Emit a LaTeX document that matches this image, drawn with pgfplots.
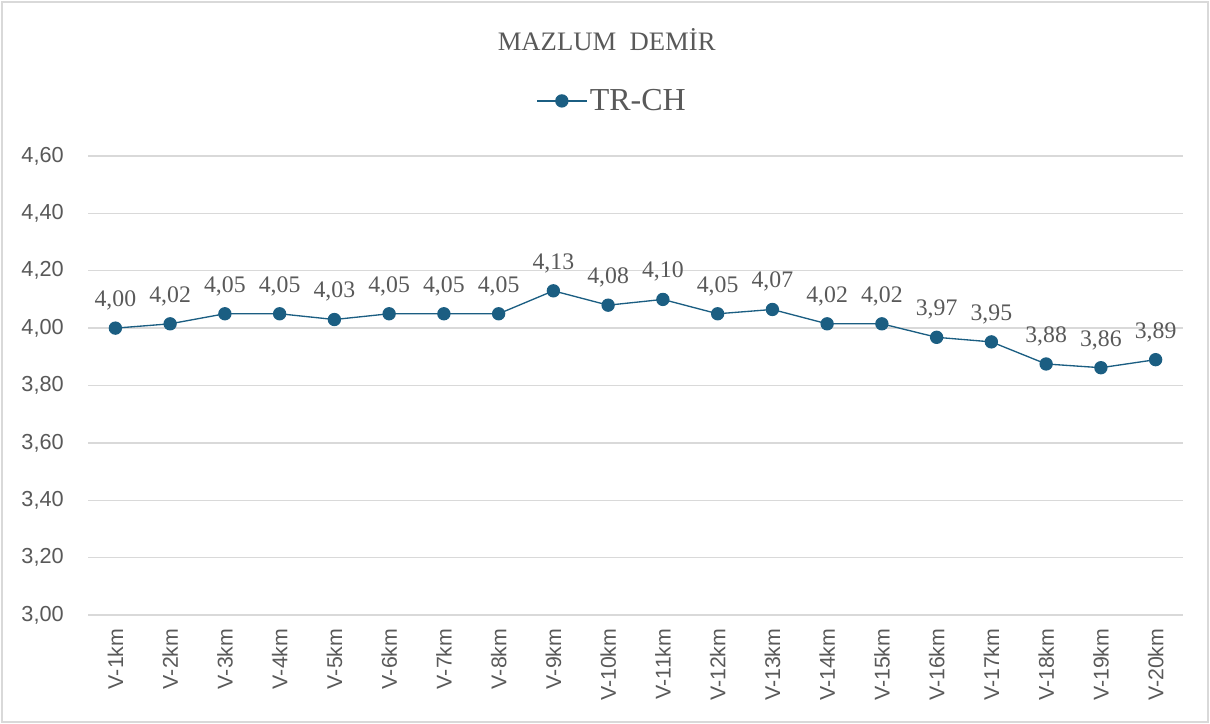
\documentclass[border=0pt]{standalone}
\usepackage{pgfplots}
\pgfplotsset{compat=1.18}
\usepackage{fontspec}
\setmainfont{Liberation Serif}
\setsansfont{Liberation Sans}
\definecolor{txt}{HTML}{595959}
\definecolor{grid}{HTML}{D9D9D9}
\definecolor{ser}{HTML}{1B5E82}
\begin{document}
\begin{tikzpicture}
\useasboundingbox (0,0) rectangle (907.5pt,543pt);
\draw[grid, line width=1pt] (1.5pt,1.5pt) rectangle (906pt,541.5pt);
\node[text=txt, font=\fontsize{20}{22}\selectfont] at (455pt,513pt) {MAZLUM\hspace{0.5em}DEMİR};
\begin{axis}[
  at={(66pt,81.75pt)}, anchor=south west,
  scale only axis, width=821.25pt, height=344.25pt,
  xmin=0.5, xmax=20.5, ymin=3, ymax=4.6,
  xtick={1,...,20},
  xticklabels={V-1km,V-2km,V-3km,V-4km,V-5km,V-6km,V-7km,V-8km,V-9km,V-10km,V-11km,V-12km,V-13km,V-14km,V-15km,V-16km,V-17km,V-18km,V-19km,V-20km},
  ytick={3,3.2,3.4,3.6,3.8,4,4.2,4.4,4.6},
  axis line style={draw=none},
  major tick length=0pt, tick style={draw=none},
  xmajorgrids=false, ymajorgrids=true,
  y grid style={grid, line width=1.1pt},
  yticklabel style={font=\sffamily\fontsize{16.3}{18}\selectfont, text=txt, anchor=east, inner sep=0pt, xshift=-18pt,
    /pgf/number format/.cd, fixed, fixed zerofill, precision=2, use comma, assume math mode=true},
  xticklabel style={font=\sffamily\fontsize{16}{18}\selectfont, text=txt, inner sep=0pt, yshift=-10pt, rotate=90, anchor=east},
  clip=false,
  legend style={draw=none, fill=none, at={(0.479,1.12)}, anchor=center, font=\fontsize{24}{26}\selectfont, text=txt, legend cell align=left, inner sep=0pt},
  legend image code/.code={\draw[mark repeat=2, mark phase=2, #1] plot coordinates {(0pt,0pt) (18.5pt,0pt) (37pt,0pt)};},
  nodes near coords,
  point meta=explicit symbolic,
  every node near coord/.style={font=\fontsize{17.8}{19}\selectfont, text=txt, anchor=south, inner sep=0pt, yshift=13pt},
]
\addplot[ser, line width=1pt, mark=*, mark size=4.5pt, mark options={fill=ser, draw=ser}]
  table[x=x, y=y, meta=label] {
x y label
1 4.000 4,00
2 4.015 4,02
3 4.050 4,05
4 4.050 4,05
5 4.030 4,03
6 4.050 4,05
7 4.050 4,05
8 4.050 4,05
9 4.130 4,13
10 4.080 4,08
11 4.100 4,10
12 4.050 4,05
13 4.065 4,07
14 4.015 4,02
15 4.015 4,02
16 3.968 3,97
17 3.952 3,95
18 3.875 3,88
19 3.862 3,86
20 3.890 3,89
};
\addlegendentry{TR-CH}
\end{axis}
\end{tikzpicture}
\end{document}
